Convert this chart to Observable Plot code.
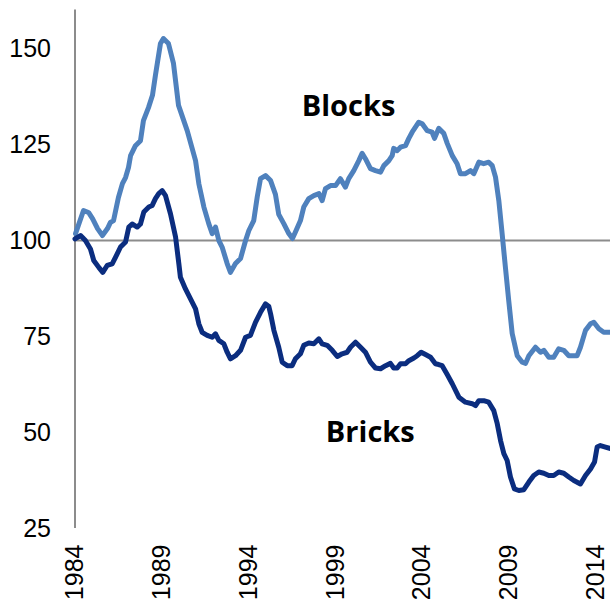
<!DOCTYPE html>
<html>
<head>
<meta charset="utf-8">
<script src="https://cdn.jsdelivr.net/npm/d3@7"></script>
<script src="https://cdn.jsdelivr.net/npm/@observablehq/plot@0.6"></script>
<style>
  html, body { margin: 0; padding: 0; background: #fff; }
  #chart svg { display: block; overflow: visible; }
</style>
</head>
<body>
<div id="chart"></div>
<script>
const xTicks = [1984, 1989, 1994, 1999, 2004, 2009, 2014];
const yTicks = [25, 50, 75, 100, 125, 150];

const blocksYear = [1984.03,1984.49,1984.78,1985.01,1985.30,1985.58,1985.87,1986.04,1986.22,1986.50,1986.73,1986.91,1987.08,1987.20,1987.48,1987.77,1987.94,1988.23,1988.46,1988.63,1988.92,1989.09,1989.38,1989.67,1989.96,1990.46,1990.94,1991.13,1991.42,1991.70,1991.90,1992.09,1992.28,1992.47,1992.76,1992.95,1993.24,1993.53,1993.82,1994.01,1994.29,1994.49,1994.68,1994.97,1995.26,1995.54,1995.73,1996.02,1996.31,1996.52,1996.69,1996.98,1997.17,1997.46,1997.75,1998.04,1998.23,1998.42,1998.71,1999.00,1999.28,1999.57,1999.76,2000.05,2000.34,2000.53,2000.72,2001.01,2001.30,2001.59,2001.78,2002.07,2002.26,2002.35,2002.55,2002.74,2003.03,2003.22,2003.41,2003.60,2003.79,2003.99,2004.28,2004.56,2004.70,2004.94,2005.23,2005.43,2005.72,2006.00,2006.19,2006.48,2006.77,2006.96,2007.25,2007.53,2007.82,2008.02,2008.21,2008.40,2008.59,2008.78,2008.97,2009.17,2009.46,2009.75,2009.94,2010.13,2010.51,2010.80,2010.99,2011.28,2011.56,2011.85,2012.14,2012.43,2012.72,2012.91,2013.10,2013.39,2013.68,2013.87,2014.16,2014.44,2014.83];
const blocksValue = [101.8,107.8,107.3,105.7,103.1,101.3,103.1,104.7,105.2,111.2,114.8,116.4,119.0,122.1,124.7,126.0,131.2,134.6,137.8,143.0,151.3,152.6,151.3,146.1,135.2,128.6,120.8,114.8,108.7,104.4,101.8,103.5,100.0,98.3,94.0,91.7,94.0,95.3,100.0,102.6,105.2,111.3,116.1,116.9,115.6,112.0,106.8,104.4,101.8,100.5,102.2,105.2,108.7,110.9,111.7,112.2,110.4,113.5,114.3,114.3,116.1,113.9,116.1,118.2,120.8,122.7,121.3,118.7,118.2,117.8,119.5,120.8,122.1,124.0,123.4,124.3,124.7,126.6,128.2,129.5,130.8,130.4,128.6,128.2,126.6,129.2,127.9,125.3,122.1,120.0,117.4,117.4,118.2,117.4,120.4,120.0,120.4,119.5,116.5,110.4,101.8,93.0,84.4,75.8,70.0,68.3,68.0,70.0,72.2,70.9,71.4,69.6,69.6,71.8,71.4,70.0,70.0,70.0,72.2,76.6,78.3,78.7,77.0,76.1,76.1];

const bricksYear = [1984.00,1984.32,1984.60,1984.89,1985.08,1985.37,1985.60,1985.85,1986.14,1986.33,1986.62,1986.91,1987.10,1987.29,1987.58,1987.77,1987.96,1988.25,1988.44,1988.63,1988.82,1989.02,1989.21,1989.50,1989.79,1989.98,1990.07,1990.36,1990.65,1990.94,1991.13,1991.32,1991.61,1991.90,1992.09,1992.28,1992.57,1992.76,1992.95,1993.24,1993.53,1993.82,1994.10,1994.39,1994.68,1994.97,1995.16,1995.26,1995.45,1995.73,1995.93,1996.22,1996.50,1996.69,1996.98,1997.17,1997.46,1997.75,1998.04,1998.23,1998.52,1998.81,1999.10,1999.38,1999.67,1999.86,2000.15,2000.44,2000.72,2001.01,2001.30,2001.59,2001.88,2002.16,2002.35,2002.55,2002.74,2003.03,2003.22,2003.51,2003.70,2003.93,2004.18,2004.47,2004.75,2004.94,2005.14,2005.43,2005.72,2006.10,2006.48,2006.87,2007.06,2007.25,2007.53,2007.82,2008.11,2008.31,2008.50,2008.69,2008.88,2009.07,2009.30,2009.55,2009.84,2010.13,2010.41,2010.70,2010.99,2011.28,2011.56,2011.85,2012.14,2012.43,2012.72,2013.10,2013.39,2013.68,2013.91,2014.06,2014.25,2014.54,2014.83];
const bricksValue = [100.4,101.3,100.0,97.8,94.8,93.0,91.7,93.5,93.9,95.6,98.3,99.6,103.5,104.3,103.5,104.3,107.4,108.7,109.1,110.9,112.2,113.0,111.7,106.9,100.9,93.9,90.4,87.4,84.8,82.2,78.3,76.1,75.3,74.8,75.7,74.0,73.1,70.9,69.2,70.0,71.4,74.8,75.3,78.7,81.3,83.5,82.8,80.9,76.6,72.2,68.3,67.4,67.4,69.2,70.5,72.7,73.3,73.1,74.4,73.1,72.7,71.4,69.8,70.5,70.9,72.2,73.5,72.2,70.9,68.3,66.8,66.6,67.4,68.0,66.8,66.8,67.9,67.9,68.7,69.4,70.0,70.9,70.3,69.6,67.9,67.7,67.4,65.1,62.7,59.2,57.9,57.5,57.0,58.3,58.3,57.9,55.7,52.3,47.9,44.5,42.7,38.4,35.3,34.9,35.1,37.1,38.8,39.7,39.4,38.8,38.8,39.7,39.4,38.4,37.5,36.6,38.8,40.5,42.3,46.2,46.6,46.2,45.8];

const seriesNames = ["Blocks", "Bricks"];
const seriesColors = ["#4f81bd", "#0b2d7f"];
const labelYear = [1999.75, 2001.0];
const labelValue = [134.9, 50.0];

const blocks = blocksYear.map((y, i) => ({year: y, value: blocksValue[i]}));
const bricks = bricksYear.map((y, i) => ({year: y, value: bricksValue[i]}));
const labels = seriesNames.map((s, i) => ({name: s, year: labelYear[i], value: labelValue[i]}));

const chart = Plot.plot({
  width: 610,
  height: 603,
  marginLeft: 74.5,
  marginRight: 0,
  marginTop: 9.6,
  marginBottom: 75,
  style: {background: "#fff", fontFamily: "'Liberation Sans', Arial, sans-serif", color: "#000"},
  x: {domain: [1984, 2014.83], ticks: xTicks, tickFormat: d => String(d), label: null},
  y: {domain: [25, 160], ticks: yTicks, label: null},
  marks: [
    Plot.ruleY([100], {stroke: "#8c8c8c", strokeWidth: 2}),
    Plot.ruleX([1984], {y1: 25, y2: 160, stroke: "#8c8c8c", strokeWidth: 2}),
    Plot.axisX({ticks: xTicks, tickSize: 0, tickPadding: 16, tickRotate: -90, fontSize: 25, tickFormat: d => String(d), label: null}),
    Plot.axisY({ticks: yTicks, tickSize: 0, tickPadding: 24, fontSize: 25, label: null}),
    Plot.line(blocks, {x: "year", y: "value", stroke: seriesColors[0], strokeWidth: 5, strokeLinejoin: "round", strokeLinecap: "round"}),
    Plot.line(bricks, {x: "year", y: "value", stroke: seriesColors[1], strokeWidth: 5, strokeLinejoin: "round", strokeLinecap: "round"}),
    Plot.text(labels, {x: "year", y: "value", text: "name", fontFamily: "'Open Sans', sans-serif", fontWeight: "bold", fontSize: 29, fill: "#000", textAnchor: "middle", lineAnchor: "middle"})
  ]
});
document.getElementById("chart").appendChild(chart);
</script>
</body>
</html>
